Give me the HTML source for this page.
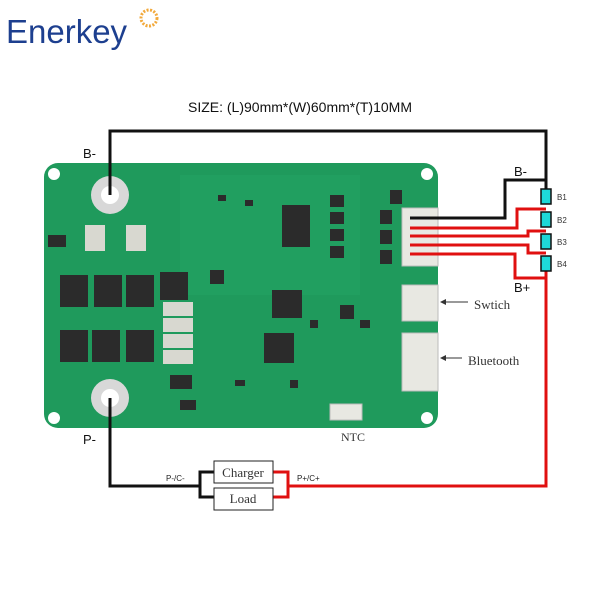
<!DOCTYPE html>
<html><head><style>body{margin:0;background:#fff}svg{display:block}</style></head><body>
<svg width="600" height="600" viewBox="0 0 600 600" xmlns="http://www.w3.org/2000/svg" font-family="Liberation Sans, sans-serif">
<text x="6" y="43" font-size="33" fill="#1d3f8f" font-family="Liberation Sans, sans-serif">Enerkey</text>
<circle cx="149" cy="18" r="8" fill="none" stroke="#f2a93b" stroke-width="3" stroke-dasharray="2 1.5"/>
<text x="300" y="112" font-size="14" text-anchor="middle" fill="#111">SIZE: (L)90mm*(W)60mm*(T)10MM</text>
<!-- board -->
<rect x="44" y="163" width="394" height="265" rx="14" fill="#1f9a5c"/>
<rect x="180" y="175" width="180" height="120" fill="#23a463" opacity="0.6"/>
<circle cx="54" cy="174" r="6" fill="#fff"/><circle cx="427" cy="174" r="6" fill="#fff"/>
<circle cx="54" cy="418" r="6" fill="#fff"/><circle cx="427" cy="418" r="6" fill="#fff"/>
<circle cx="110" cy="195" r="19" fill="#d8d8d8"/><circle cx="110" cy="195" r="9" fill="#fff"/>
<circle cx="110" cy="398" r="19" fill="#d8d8d8"/><circle cx="110" cy="398" r="9" fill="#fff"/>
<!-- mosfets -->
<g fill="#2b2b2b">
<rect x="60" y="275" width="28" height="32"/><rect x="94" y="275" width="28" height="32"/><rect x="126" y="275" width="28" height="32"/>
<rect x="60" y="330" width="28" height="32"/><rect x="92" y="330" width="28" height="32"/><rect x="126" y="330" width="28" height="32"/>
<rect x="160" y="272" width="28" height="28"/><rect x="48" y="235" width="18" height="12"/><rect x="272" y="290" width="30" height="28"/>
<rect x="282" y="205" width="28" height="42"/><rect x="264" y="333" width="30" height="30"/><rect x="170" y="375" width="22" height="14"/>
<rect x="330" y="195" width="14" height="12"/><rect x="330" y="212" width="14" height="12"/><rect x="330" y="229" width="14" height="12"/><rect x="330" y="246" width="14" height="12"/>
<rect x="390" y="190" width="12" height="14"/><rect x="380" y="210" width="12" height="14"/><rect x="380" y="230" width="12" height="14"/><rect x="380" y="250" width="12" height="14"/>
<rect x="210" y="270" width="14" height="14"/><rect x="340" y="305" width="14" height="14"/>
<rect x="218" y="195" width="8" height="6"/><rect x="245" y="200" width="8" height="6"/><rect x="290" y="310" width="10" height="6"/>
<rect x="310" y="320" width="8" height="8"/><rect x="360" y="320" width="10" height="8"/><rect x="235" y="380" width="10" height="6"/>
<rect x="180" y="400" width="16" height="10"/><rect x="290" y="380" width="8" height="8"/>
</g>
<g fill="#d8d8d0"><rect x="163" y="302" width="30" height="14"/><rect x="163" y="318" width="30" height="14"/><rect x="163" y="334" width="30" height="14"/><rect x="163" y="350" width="30" height="14"/>
<rect x="85" y="225" width="20" height="26"/><rect x="126" y="225" width="20" height="26"/></g>
<!-- connectors -->
<g fill="#e8e8e2" stroke="#bbb"><rect x="402" y="208" width="36" height="58"/><rect x="402" y="285" width="36" height="36"/><rect x="402" y="333" width="36" height="58"/><rect x="330" y="404" width="32" height="16"/></g>
<!-- wires -->
<g fill="none" stroke-width="3">
<path d="M110 195 V131 H546 V196" stroke="#111"/>
<path d="M410 218 H505 V180 H546" stroke="#111"/>
<path d="M410 228 H517 V209 H546" stroke="#e01010"/>
<path d="M410 236 H528 V231 H546" stroke="#e01010"/>
<path d="M410 245 H528 V253 H546" stroke="#e01010"/>
<path d="M410 254 H515 V278 H546" stroke="#e01010"/>
<path d="M546 270 V486 H288" stroke="#e01010"/>
<path d="M273 472 H288 V497 H273" stroke="#e01010"/>
<path d="M110 398 V486 H200" stroke="#111"/>
<path d="M214 472 H200 V497 H214" stroke="#111"/>
</g>
<g fill="#1ed8d8" stroke="#111" stroke-width="1.5">
<rect x="541" y="189" width="10" height="15"/><rect x="541" y="212" width="10" height="15"/><rect x="541" y="234" width="10" height="15"/><rect x="541" y="256" width="10" height="15"/></g>
<g font-size="8" fill="#333"><text x="557" y="200">B1</text><text x="557" y="223">B2</text><text x="557" y="245">B3</text><text x="557" y="267">B4</text></g>
<rect x="214" y="461" width="59" height="22" fill="#fff" stroke="#222"/>
<rect x="214" y="488" width="59" height="22" fill="#fff" stroke="#222"/>
<g font-family="Liberation Serif, serif" font-size="13" fill="#333"><text x="243" y="477" text-anchor="middle">Charger</text><text x="243" y="503" text-anchor="middle">Load</text>
<text x="474" y="309">Swtich</text><text x="468" y="365">Bluetooth</text><text x="353" y="441" text-anchor="middle" font-size="12">NTC</text></g>
<g font-size="13" fill="#111"><text x="83" y="158">B-</text><text x="83" y="444">P-</text><text x="514" y="176">B-</text><text x="514" y="292">B+</text></g>
<g font-size="8" fill="#222"><text x="166" y="481">P-/C-</text><text x="297" y="481">P+/C+</text></g>
<path d="M468 302 H445" stroke="#333"/><path d="M440 302 l6 -3 v6z" fill="#333"/>
<path d="M462 358 H445" stroke="#333"/><path d="M440 358 l6 -3 v6z" fill="#333"/>
</svg>
</body></html>
